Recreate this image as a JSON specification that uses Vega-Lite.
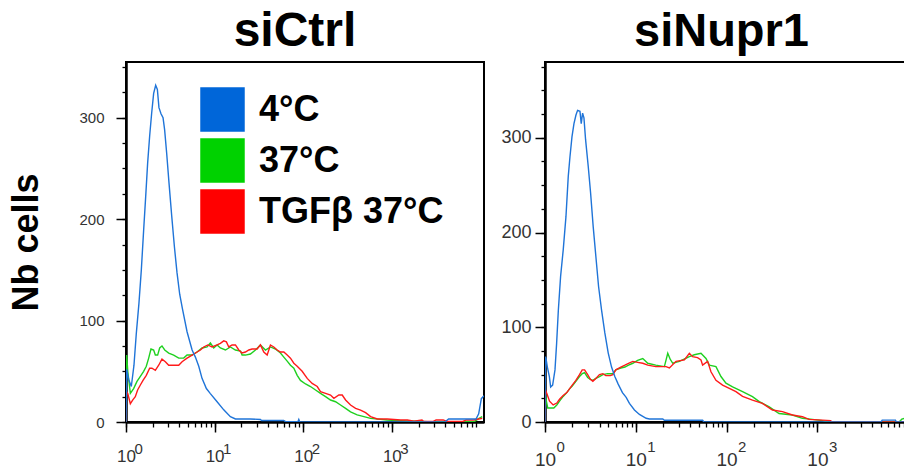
{
"$schema": "https://vega.github.io/schema/vega-lite/v6.json",
"background": "white",
"padding": {"left": 7, "top": 7, "right": 0, "bottom": 0},
"config": {"font": "Liberation Sans", "view": {"stroke": "black", "strokeWidth": 2}, "axis": {"grid": false, "labelFont": "Liberation Sans", "titleFont": "Liberation Sans"}, "legend": {"labelFont": "Liberation Sans"}, "concat": {"spacing": 13}},
"datasets": {"hist": [
{"panel":"siCtrl","series":"37°C","logFL":0,"cells":0},{"panel":"siCtrl","series":"37°C","logFL":0.008,"cells":66},{"panel":"siCtrl","series":"37°C","logFL":0.02,"cells":50},{"panel":"siCtrl","series":"37°C","logFL":0.049,"cells":28.3},{"panel":"siCtrl","series":"37°C","logFL":0.086,"cells":33},{"panel":"siCtrl","series":"37°C","logFL":0.124,"cells":40},{"panel":"siCtrl","series":"37°C","logFL":0.162,"cells":45},{"panel":"siCtrl","series":"37°C","logFL":0.199,"cells":50},{"panel":"siCtrl","series":"37°C","logFL":0.229,"cells":55},{"panel":"siCtrl","series":"37°C","logFL":0.256,"cells":63},{"panel":"siCtrl","series":"37°C","logFL":0.282,"cells":72},{"panel":"siCtrl","series":"37°C","logFL":0.312,"cells":71},{"panel":"siCtrl","series":"37°C","logFL":0.331,"cells":66},{"panel":"siCtrl","series":"37°C","logFL":0.357,"cells":66},{"panel":"siCtrl","series":"37°C","logFL":0.38,"cells":73},{"panel":"siCtrl","series":"37°C","logFL":0.406,"cells":75},{"panel":"siCtrl","series":"37°C","logFL":0.437,"cells":71},{"panel":"siCtrl","series":"37°C","logFL":0.482,"cells":68},{"panel":"siCtrl","series":"37°C","logFL":0.538,"cells":66},{"panel":"siCtrl","series":"37°C","logFL":0.595,"cells":63},{"panel":"siCtrl","series":"37°C","logFL":0.651,"cells":63},{"panel":"siCtrl","series":"37°C","logFL":0.689,"cells":66},{"panel":"siCtrl","series":"37°C","logFL":0.746,"cells":66},{"panel":"siCtrl","series":"37°C","logFL":0.802,"cells":69},{"panel":"siCtrl","series":"37°C","logFL":0.858,"cells":73},{"panel":"siCtrl","series":"37°C","logFL":0.915,"cells":74},{"panel":"siCtrl","series":"37°C","logFL":0.952,"cells":78},{"panel":"siCtrl","series":"37°C","logFL":0.99,"cells":73},{"panel":"siCtrl","series":"37°C","logFL":1.028,"cells":76},{"panel":"siCtrl","series":"37°C","logFL":1.065,"cells":73},{"panel":"siCtrl","series":"37°C","logFL":1.122,"cells":71},{"panel":"siCtrl","series":"37°C","logFL":1.178,"cells":74},{"panel":"siCtrl","series":"37°C","logFL":1.235,"cells":71},{"panel":"siCtrl","series":"37°C","logFL":1.292,"cells":70},{"panel":"siCtrl","series":"37°C","logFL":1.31,"cells":66},{"panel":"siCtrl","series":"37°C","logFL":1.348,"cells":66},{"panel":"siCtrl","series":"37°C","logFL":1.404,"cells":67},{"panel":"siCtrl","series":"37°C","logFL":1.461,"cells":71},{"panel":"siCtrl","series":"37°C","logFL":1.517,"cells":76},{"panel":"siCtrl","series":"37°C","logFL":1.574,"cells":71},{"panel":"siCtrl","series":"37°C","logFL":1.63,"cells":74},{"panel":"siCtrl","series":"37°C","logFL":1.687,"cells":72},{"panel":"siCtrl","series":"37°C","logFL":1.743,"cells":68},{"panel":"siCtrl","series":"37°C","logFL":1.781,"cells":64},{"panel":"siCtrl","series":"37°C","logFL":1.819,"cells":60},{"panel":"siCtrl","series":"37°C","logFL":1.856,"cells":56},{"panel":"siCtrl","series":"37°C","logFL":1.894,"cells":53},{"panel":"siCtrl","series":"37°C","logFL":1.932,"cells":46},{"panel":"siCtrl","series":"37°C","logFL":1.969,"cells":41},{"panel":"siCtrl","series":"37°C","logFL":2.026,"cells":37.5},{"panel":"siCtrl","series":"37°C","logFL":2.082,"cells":35},{"panel":"siCtrl","series":"37°C","logFL":2.139,"cells":31.6},{"panel":"siCtrl","series":"37°C","logFL":2.195,"cells":28.3},{"panel":"siCtrl","series":"37°C","logFL":2.252,"cells":25},{"panel":"siCtrl","series":"37°C","logFL":2.308,"cells":21.7},{"panel":"siCtrl","series":"37°C","logFL":2.365,"cells":20},{"panel":"siCtrl","series":"37°C","logFL":2.421,"cells":16.8},{"panel":"siCtrl","series":"37°C","logFL":2.478,"cells":13.5},{"panel":"siCtrl","series":"37°C","logFL":2.534,"cells":10},{"panel":"siCtrl","series":"37°C","logFL":2.609,"cells":7},{"panel":"siCtrl","series":"37°C","logFL":2.685,"cells":5.3},{"panel":"siCtrl","series":"37°C","logFL":2.76,"cells":3.6},{"panel":"siCtrl","series":"37°C","logFL":2.873,"cells":2.6},{"panel":"siCtrl","series":"37°C","logFL":2.948,"cells":2},{"panel":"siCtrl","series":"37°C","logFL":3.1,"cells":1.3},{"panel":"siCtrl","series":"37°C","logFL":3.288,"cells":0.7},{"panel":"siCtrl","series":"37°C","logFL":3.4,"cells":0.3},{"panel":"siCtrl","series":"37°C","logFL":3.93,"cells":0.3},{"panel":"siCtrl","series":"37°C","logFL":3.984,"cells":3.6},{"panel":"siCtrl","series":"37°C","logFL":4.02,"cells":5.3},
{"panel":"siCtrl","series":"TGFβ 37°C","logFL":0,"cells":0},{"panel":"siCtrl","series":"TGFβ 37°C","logFL":0.005,"cells":30},{"panel":"siCtrl","series":"TGFβ 37°C","logFL":0.02,"cells":28},{"panel":"siCtrl","series":"TGFβ 37°C","logFL":0.049,"cells":18},{"panel":"siCtrl","series":"TGFβ 37°C","logFL":0.079,"cells":22},{"panel":"siCtrl","series":"TGFβ 37°C","logFL":0.105,"cells":25},{"panel":"siCtrl","series":"TGFβ 37°C","logFL":0.131,"cells":31.6},{"panel":"siCtrl","series":"TGFβ 37°C","logFL":0.162,"cells":36.5},{"panel":"siCtrl","series":"TGFβ 37°C","logFL":0.192,"cells":41},{"panel":"siCtrl","series":"TGFβ 37°C","logFL":0.229,"cells":46},{"panel":"siCtrl","series":"TGFβ 37°C","logFL":0.267,"cells":53},{"panel":"siCtrl","series":"TGFβ 37°C","logFL":0.293,"cells":53},{"panel":"siCtrl","series":"TGFβ 37°C","logFL":0.331,"cells":51},{"panel":"siCtrl","series":"TGFβ 37°C","logFL":0.369,"cells":56},{"panel":"siCtrl","series":"TGFβ 37°C","logFL":0.406,"cells":62},{"panel":"siCtrl","series":"TGFβ 37°C","logFL":0.444,"cells":59.5},{"panel":"siCtrl","series":"TGFβ 37°C","logFL":0.482,"cells":56},{"panel":"siCtrl","series":"TGFβ 37°C","logFL":0.538,"cells":56},{"panel":"siCtrl","series":"TGFβ 37°C","logFL":0.595,"cells":56},{"panel":"siCtrl","series":"TGFβ 37°C","logFL":0.633,"cells":59.5},{"panel":"siCtrl","series":"TGFβ 37°C","logFL":0.689,"cells":63},{"panel":"siCtrl","series":"TGFβ 37°C","logFL":0.746,"cells":66},{"panel":"siCtrl","series":"TGFβ 37°C","logFL":0.802,"cells":69},{"panel":"siCtrl","series":"TGFβ 37°C","logFL":0.84,"cells":71},{"panel":"siCtrl","series":"TGFβ 37°C","logFL":0.877,"cells":74},{"panel":"siCtrl","series":"TGFβ 37°C","logFL":0.923,"cells":76},{"panel":"siCtrl","series":"TGFβ 37°C","logFL":0.971,"cells":74},{"panel":"siCtrl","series":"TGFβ 37°C","logFL":1.028,"cells":76},{"panel":"siCtrl","series":"TGFβ 37°C","logFL":1.065,"cells":77.6},{"panel":"siCtrl","series":"TGFβ 37°C","logFL":1.103,"cells":80},{"panel":"siCtrl","series":"TGFβ 37°C","logFL":1.133,"cells":79},{"panel":"siCtrl","series":"TGFβ 37°C","logFL":1.16,"cells":74},{"panel":"siCtrl","series":"TGFβ 37°C","logFL":1.197,"cells":76},{"panel":"siCtrl","series":"TGFβ 37°C","logFL":1.235,"cells":76},{"panel":"siCtrl","series":"TGFβ 37°C","logFL":1.273,"cells":71},{"panel":"siCtrl","series":"TGFβ 37°C","logFL":1.31,"cells":68},{"panel":"siCtrl","series":"TGFβ 37°C","logFL":1.348,"cells":69},{"panel":"siCtrl","series":"TGFβ 37°C","logFL":1.386,"cells":71},{"panel":"siCtrl","series":"TGFβ 37°C","logFL":1.423,"cells":72},{"panel":"siCtrl","series":"TGFβ 37°C","logFL":1.48,"cells":72},{"panel":"siCtrl","series":"TGFβ 37°C","logFL":1.517,"cells":76},{"panel":"siCtrl","series":"TGFβ 37°C","logFL":1.555,"cells":69},{"panel":"siCtrl","series":"TGFβ 37°C","logFL":1.593,"cells":66},{"panel":"siCtrl","series":"TGFβ 37°C","logFL":1.63,"cells":76},{"panel":"siCtrl","series":"TGFβ 37°C","logFL":1.668,"cells":74},{"panel":"siCtrl","series":"TGFβ 37°C","logFL":1.706,"cells":71},{"panel":"siCtrl","series":"TGFβ 37°C","logFL":1.743,"cells":69},{"panel":"siCtrl","series":"TGFβ 37°C","logFL":1.781,"cells":69},{"panel":"siCtrl","series":"TGFβ 37°C","logFL":1.819,"cells":66},{"panel":"siCtrl","series":"TGFβ 37°C","logFL":1.856,"cells":63},{"panel":"siCtrl","series":"TGFβ 37°C","logFL":1.894,"cells":58},{"panel":"siCtrl","series":"TGFβ 37°C","logFL":1.932,"cells":55},{"panel":"siCtrl","series":"TGFβ 37°C","logFL":1.988,"cells":50},{"panel":"siCtrl","series":"TGFβ 37°C","logFL":2.045,"cells":43},{"panel":"siCtrl","series":"TGFβ 37°C","logFL":2.101,"cells":38},{"panel":"siCtrl","series":"TGFβ 37°C","logFL":2.158,"cells":35},{"panel":"siCtrl","series":"TGFβ 37°C","logFL":2.195,"cells":30},{"panel":"siCtrl","series":"TGFβ 37°C","logFL":2.252,"cells":28.3},{"panel":"siCtrl","series":"TGFβ 37°C","logFL":2.308,"cells":26.6},{"panel":"siCtrl","series":"TGFβ 37°C","logFL":2.346,"cells":23.4},{"panel":"siCtrl","series":"TGFβ 37°C","logFL":2.402,"cells":26.6},{"panel":"siCtrl","series":"TGFβ 37°C","logFL":2.44,"cells":26.6},{"panel":"siCtrl","series":"TGFβ 37°C","logFL":2.478,"cells":21.7},{"panel":"siCtrl","series":"TGFβ 37°C","logFL":2.534,"cells":16.8},{"panel":"siCtrl","series":"TGFβ 37°C","logFL":2.591,"cells":13.5},{"panel":"siCtrl","series":"TGFβ 37°C","logFL":2.647,"cells":11.8},{"panel":"siCtrl","series":"TGFβ 37°C","logFL":2.704,"cells":9.2},{"panel":"siCtrl","series":"TGFβ 37°C","logFL":2.76,"cells":5.3},{"panel":"siCtrl","series":"TGFβ 37°C","logFL":2.836,"cells":3},{"panel":"siCtrl","series":"TGFβ 37°C","logFL":2.948,"cells":3},{"panel":"siCtrl","series":"TGFβ 37°C","logFL":3.1,"cells":2},{"panel":"siCtrl","series":"TGFβ 37°C","logFL":3.175,"cells":2},{"panel":"siCtrl","series":"TGFβ 37°C","logFL":3.25,"cells":0.7},{"panel":"siCtrl","series":"TGFβ 37°C","logFL":3.34,"cells":2},{"panel":"siCtrl","series":"TGFβ 37°C","logFL":3.36,"cells":0.5},{"panel":"siCtrl","series":"TGFβ 37°C","logFL":3.467,"cells":0.5},{"panel":"siCtrl","series":"TGFβ 37°C","logFL":3.5,"cells":2},{"panel":"siCtrl","series":"TGFβ 37°C","logFL":3.58,"cells":2},{"panel":"siCtrl","series":"TGFβ 37°C","logFL":3.62,"cells":0.5},{"panel":"siCtrl","series":"TGFβ 37°C","logFL":3.8,"cells":0.5},{"panel":"siCtrl","series":"TGFβ 37°C","logFL":3.84,"cells":2},{"panel":"siCtrl","series":"TGFβ 37°C","logFL":3.92,"cells":2},{"panel":"siCtrl","series":"TGFβ 37°C","logFL":3.98,"cells":3},{"panel":"siCtrl","series":"TGFβ 37°C","logFL":4.02,"cells":3.6},
{"panel":"siCtrl","series":"4°C","logFL":0,"cells":0},{"panel":"siCtrl","series":"4°C","logFL":0.008,"cells":52},{"panel":"siCtrl","series":"4°C","logFL":0.03,"cells":42},{"panel":"siCtrl","series":"4°C","logFL":0.06,"cells":35},{"panel":"siCtrl","series":"4°C","logFL":0.09,"cells":56},{"panel":"siCtrl","series":"4°C","logFL":0.116,"cells":87},{"panel":"siCtrl","series":"4°C","logFL":0.146,"cells":117},{"panel":"siCtrl","series":"4°C","logFL":0.173,"cells":150},{"panel":"siCtrl","series":"4°C","logFL":0.199,"cells":189},{"panel":"siCtrl","series":"4°C","logFL":0.222,"cells":222},{"panel":"siCtrl","series":"4°C","logFL":0.244,"cells":255},{"panel":"siCtrl","series":"4°C","logFL":0.267,"cells":282},{"panel":"siCtrl","series":"4°C","logFL":0.29,"cells":305},{"panel":"siCtrl","series":"4°C","logFL":0.312,"cells":324},{"panel":"siCtrl","series":"4°C","logFL":0.335,"cells":332},{"panel":"siCtrl","series":"4°C","logFL":0.354,"cells":328},{"panel":"siCtrl","series":"4°C","logFL":0.372,"cells":310},{"panel":"siCtrl","series":"4°C","logFL":0.395,"cells":304},{"panel":"siCtrl","series":"4°C","logFL":0.418,"cells":300},{"panel":"siCtrl","series":"4°C","logFL":0.436,"cells":288},{"panel":"siCtrl","series":"4°C","logFL":0.459,"cells":265},{"panel":"siCtrl","series":"4°C","logFL":0.485,"cells":236},{"panel":"siCtrl","series":"4°C","logFL":0.516,"cells":203},{"panel":"siCtrl","series":"4°C","logFL":0.546,"cells":173},{"panel":"siCtrl","series":"4°C","logFL":0.576,"cells":147},{"panel":"siCtrl","series":"4°C","logFL":0.606,"cells":126},{"panel":"siCtrl","series":"4°C","logFL":0.636,"cells":112},{"panel":"siCtrl","series":"4°C","logFL":0.689,"cells":89},{"panel":"siCtrl","series":"4°C","logFL":0.746,"cells":71},{"panel":"siCtrl","series":"4°C","logFL":0.783,"cells":64},{"panel":"siCtrl","series":"4°C","logFL":0.821,"cells":55},{"panel":"siCtrl","series":"4°C","logFL":0.858,"cells":43},{"panel":"siCtrl","series":"4°C","logFL":0.907,"cells":33},{"panel":"siCtrl","series":"4°C","logFL":0.952,"cells":28},{"panel":"siCtrl","series":"4°C","logFL":1.028,"cells":20},{"panel":"siCtrl","series":"4°C","logFL":1.103,"cells":12},{"panel":"siCtrl","series":"4°C","logFL":1.178,"cells":5.3},{"panel":"siCtrl","series":"4°C","logFL":1.235,"cells":3},{"panel":"siCtrl","series":"4°C","logFL":1.4,"cells":3},{"panel":"siCtrl","series":"4°C","logFL":1.517,"cells":2.5},{"panel":"siCtrl","series":"4°C","logFL":1.53,"cells":1.5},{"panel":"siCtrl","series":"4°C","logFL":1.78,"cells":1.5},{"panel":"siCtrl","series":"4°C","logFL":1.8,"cells":0.3},{"panel":"siCtrl","series":"4°C","logFL":1.94,"cells":0.3},{"panel":"siCtrl","series":"4°C","logFL":1.95,"cells":2.5},{"panel":"siCtrl","series":"4°C","logFL":1.96,"cells":0.3},{"panel":"siCtrl","series":"4°C","logFL":2.2,"cells":0},{"panel":"siCtrl","series":"4°C","logFL":3.6,"cells":0},{"panel":"siCtrl","series":"4°C","logFL":3.64,"cells":3},{"panel":"siCtrl","series":"4°C","logFL":3.95,"cells":3},{"panel":"siCtrl","series":"4°C","logFL":3.98,"cells":8},{"panel":"siCtrl","series":"4°C","logFL":4.01,"cells":23},{"panel":"siCtrl","series":"4°C","logFL":4.04,"cells":26},
{"panel":"siNupr1","series":"37°C","logFL":0,"cells":0},{"panel":"siNupr1","series":"37°C","logFL":0.004,"cells":30},{"panel":"siNupr1","series":"37°C","logFL":0.015,"cells":22},{"panel":"siNupr1","series":"37°C","logFL":0.03,"cells":14.8},{"panel":"siNupr1","series":"37°C","logFL":0.097,"cells":14.8},{"panel":"siNupr1","series":"37°C","logFL":0.13,"cells":18},{"panel":"siNupr1","series":"37°C","logFL":0.16,"cells":22},{"panel":"siNupr1","series":"37°C","logFL":0.2,"cells":27},{"panel":"siNupr1","series":"37°C","logFL":0.24,"cells":31},{"panel":"siNupr1","series":"37°C","logFL":0.27,"cells":35},{"panel":"siNupr1","series":"37°C","logFL":0.3,"cells":38},{"panel":"siNupr1","series":"37°C","logFL":0.34,"cells":43},{"panel":"siNupr1","series":"37°C","logFL":0.38,"cells":48},{"panel":"siNupr1","series":"37°C","logFL":0.41,"cells":51},{"panel":"siNupr1","series":"37°C","logFL":0.436,"cells":52},{"panel":"siNupr1","series":"37°C","logFL":0.47,"cells":47},{"panel":"siNupr1","series":"37°C","logFL":0.5,"cells":45},{"panel":"siNupr1","series":"37°C","logFL":0.527,"cells":44},{"panel":"siNupr1","series":"37°C","logFL":0.56,"cells":46},{"panel":"siNupr1","series":"37°C","logFL":0.6,"cells":48},{"panel":"siNupr1","series":"37°C","logFL":0.637,"cells":50},{"panel":"siNupr1","series":"37°C","logFL":0.69,"cells":51},{"panel":"siNupr1","series":"37°C","logFL":0.747,"cells":51},{"panel":"siNupr1","series":"37°C","logFL":0.78,"cells":55},{"panel":"siNupr1","series":"37°C","logFL":0.835,"cells":57},{"panel":"siNupr1","series":"37°C","logFL":0.88,"cells":58},{"panel":"siNupr1","series":"37°C","logFL":0.92,"cells":60},{"panel":"siNupr1","series":"37°C","logFL":0.967,"cells":62},{"panel":"siNupr1","series":"37°C","logFL":1.02,"cells":65},{"panel":"siNupr1","series":"37°C","logFL":1.077,"cells":67},{"panel":"siNupr1","series":"37°C","logFL":1.132,"cells":62},{"panel":"siNupr1","series":"37°C","logFL":1.22,"cells":60},{"panel":"siNupr1","series":"37°C","logFL":1.315,"cells":58.5},{"panel":"siNupr1","series":"37°C","logFL":1.352,"cells":72.5},{"panel":"siNupr1","series":"37°C","logFL":1.38,"cells":66},{"panel":"siNupr1","series":"37°C","logFL":1.407,"cells":62},{"panel":"siNupr1","series":"37°C","logFL":1.48,"cells":64},{"panel":"siNupr1","series":"37°C","logFL":1.59,"cells":69},{"panel":"siNupr1","series":"37°C","logFL":1.644,"cells":71},{"panel":"siNupr1","series":"37°C","logFL":1.718,"cells":72.5},{"panel":"siNupr1","series":"37°C","logFL":1.773,"cells":67},{"panel":"siNupr1","series":"37°C","logFL":1.81,"cells":60},{"panel":"siNupr1","series":"37°C","logFL":1.883,"cells":58.5},{"panel":"siNupr1","series":"37°C","logFL":1.938,"cells":48},{"panel":"siNupr1","series":"37°C","logFL":1.993,"cells":41},{"panel":"siNupr1","series":"37°C","logFL":2.066,"cells":37},{"panel":"siNupr1","series":"37°C","logFL":2.176,"cells":32},{"panel":"siNupr1","series":"37°C","logFL":2.285,"cells":26.8},{"panel":"siNupr1","series":"37°C","logFL":2.36,"cells":21.5},{"panel":"siNupr1","series":"37°C","logFL":2.47,"cells":16},{"panel":"siNupr1","series":"37°C","logFL":2.578,"cells":9},{"panel":"siNupr1","series":"37°C","logFL":2.725,"cells":7.4},{"panel":"siNupr1","series":"37°C","logFL":2.835,"cells":3.9},{"panel":"siNupr1","series":"37°C","logFL":2.945,"cells":2.8},{"panel":"siNupr1","series":"37°C","logFL":3.055,"cells":1.4},{"panel":"siNupr1","series":"37°C","logFL":3.12,"cells":0},{"panel":"siNupr1","series":"37°C","logFL":3.9,"cells":0},{"panel":"siNupr1","series":"37°C","logFL":3.93,"cells":3},{"panel":"siNupr1","series":"37°C","logFL":4.0,"cells":5},
{"panel":"siNupr1","series":"TGFβ 37°C","logFL":0,"cells":0},{"panel":"siNupr1","series":"TGFβ 37°C","logFL":0.004,"cells":34},{"panel":"siNupr1","series":"TGFβ 37°C","logFL":0.02,"cells":30},{"panel":"siNupr1","series":"TGFβ 37°C","logFL":0.05,"cells":22},{"panel":"siNupr1","series":"TGFβ 37°C","logFL":0.09,"cells":18},{"panel":"siNupr1","series":"TGFβ 37°C","logFL":0.13,"cells":20},{"panel":"siNupr1","series":"TGFβ 37°C","logFL":0.16,"cells":24},{"panel":"siNupr1","series":"TGFβ 37°C","logFL":0.2,"cells":28},{"panel":"siNupr1","series":"TGFβ 37°C","logFL":0.24,"cells":31},{"panel":"siNupr1","series":"TGFβ 37°C","logFL":0.27,"cells":35},{"panel":"siNupr1","series":"TGFβ 37°C","logFL":0.3,"cells":39},{"panel":"siNupr1","series":"TGFβ 37°C","logFL":0.34,"cells":44},{"panel":"siNupr1","series":"TGFβ 37°C","logFL":0.38,"cells":50},{"panel":"siNupr1","series":"TGFβ 37°C","logFL":0.41,"cells":55},{"panel":"siNupr1","series":"TGFβ 37°C","logFL":0.436,"cells":55},{"panel":"siNupr1","series":"TGFβ 37°C","logFL":0.47,"cells":50},{"panel":"siNupr1","series":"TGFβ 37°C","logFL":0.5,"cells":45},{"panel":"siNupr1","series":"TGFβ 37°C","logFL":0.527,"cells":43},{"panel":"siNupr1","series":"TGFβ 37°C","logFL":0.56,"cells":46},{"panel":"siNupr1","series":"TGFβ 37°C","logFL":0.6,"cells":50},{"panel":"siNupr1","series":"TGFβ 37°C","logFL":0.637,"cells":51},{"panel":"siNupr1","series":"TGFβ 37°C","logFL":0.67,"cells":49},{"panel":"siNupr1","series":"TGFβ 37°C","logFL":0.72,"cells":49},{"panel":"siNupr1","series":"TGFβ 37°C","logFL":0.747,"cells":50},{"panel":"siNupr1","series":"TGFβ 37°C","logFL":0.78,"cells":55},{"panel":"siNupr1","series":"TGFβ 37°C","logFL":0.835,"cells":58},{"panel":"siNupr1","series":"TGFβ 37°C","logFL":0.88,"cells":60},{"panel":"siNupr1","series":"TGFβ 37°C","logFL":0.92,"cells":62},{"panel":"siNupr1","series":"TGFβ 37°C","logFL":0.967,"cells":64},{"panel":"siNupr1","series":"TGFβ 37°C","logFL":1.02,"cells":63},{"panel":"siNupr1","series":"TGFβ 37°C","logFL":1.077,"cells":62},{"panel":"siNupr1","series":"TGFβ 37°C","logFL":1.132,"cells":60},{"panel":"siNupr1","series":"TGFβ 37°C","logFL":1.22,"cells":58.5},{"panel":"siNupr1","series":"TGFβ 37°C","logFL":1.333,"cells":58.5},{"panel":"siNupr1","series":"TGFβ 37°C","logFL":1.37,"cells":57},{"panel":"siNupr1","series":"TGFβ 37°C","logFL":1.443,"cells":64},{"panel":"siNupr1","series":"TGFβ 37°C","logFL":1.535,"cells":65.5},{"panel":"siNupr1","series":"TGFβ 37°C","logFL":1.59,"cells":72.5},{"panel":"siNupr1","series":"TGFβ 37°C","logFL":1.626,"cells":69},{"panel":"siNupr1","series":"TGFβ 37°C","logFL":1.68,"cells":68},{"panel":"siNupr1","series":"TGFβ 37°C","logFL":1.718,"cells":65.5},{"panel":"siNupr1","series":"TGFβ 37°C","logFL":1.736,"cells":60},{"panel":"siNupr1","series":"TGFβ 37°C","logFL":1.791,"cells":64},{"panel":"siNupr1","series":"TGFβ 37°C","logFL":1.828,"cells":53},{"panel":"siNupr1","series":"TGFβ 37°C","logFL":1.883,"cells":44},{"panel":"siNupr1","series":"TGFβ 37°C","logFL":1.956,"cells":39},{"panel":"siNupr1","series":"TGFβ 37°C","logFL":2.03,"cells":35.6},{"panel":"siNupr1","series":"TGFβ 37°C","logFL":2.103,"cells":32},{"panel":"siNupr1","series":"TGFβ 37°C","logFL":2.176,"cells":27},{"panel":"siNupr1","series":"TGFβ 37°C","logFL":2.285,"cells":23},{"panel":"siNupr1","series":"TGFβ 37°C","logFL":2.395,"cells":19.7},{"panel":"siNupr1","series":"TGFβ 37°C","logFL":2.505,"cells":12.7},{"panel":"siNupr1","series":"TGFβ 37°C","logFL":2.615,"cells":11},{"panel":"siNupr1","series":"TGFβ 37°C","logFL":2.725,"cells":7.4},{"panel":"siNupr1","series":"TGFβ 37°C","logFL":2.835,"cells":5.6},{"panel":"siNupr1","series":"TGFβ 37°C","logFL":2.908,"cells":2.8},{"panel":"siNupr1","series":"TGFβ 37°C","logFL":3.055,"cells":2},{"panel":"siNupr1","series":"TGFβ 37°C","logFL":3.146,"cells":1.4},{"panel":"siNupr1","series":"TGFβ 37°C","logFL":3.16,"cells":0},{"panel":"siNupr1","series":"TGFβ 37°C","logFL":4.0,"cells":0},
{"panel":"siNupr1","series":"4°C","logFL":0,"cells":0},{"panel":"siNupr1","series":"4°C","logFL":0.004,"cells":69},{"panel":"siNupr1","series":"4°C","logFL":0.011,"cells":67},{"panel":"siNupr1","series":"4°C","logFL":0.026,"cells":58},{"panel":"siNupr1","series":"4°C","logFL":0.048,"cells":48},{"panel":"siNupr1","series":"4°C","logFL":0.062,"cells":37},{"panel":"siNupr1","series":"4°C","logFL":0.084,"cells":39},{"panel":"siNupr1","series":"4°C","logFL":0.11,"cells":55},{"panel":"siNupr1","series":"4°C","logFL":0.128,"cells":83},{"panel":"siNupr1","series":"4°C","logFL":0.147,"cells":118},{"panel":"siNupr1","series":"4°C","logFL":0.172,"cells":154},{"panel":"siNupr1","series":"4°C","logFL":0.201,"cells":182},{"panel":"siNupr1","series":"4°C","logFL":0.231,"cells":217},{"panel":"siNupr1","series":"4°C","logFL":0.256,"cells":259},{"panel":"siNupr1","series":"4°C","logFL":0.275,"cells":280},{"panel":"siNupr1","series":"4°C","logFL":0.297,"cells":301},{"panel":"siNupr1","series":"4°C","logFL":0.319,"cells":315},{"panel":"siNupr1","series":"4°C","logFL":0.341,"cells":324},{"panel":"siNupr1","series":"4°C","logFL":0.359,"cells":329},{"panel":"siNupr1","series":"4°C","logFL":0.385,"cells":328},{"panel":"siNupr1","series":"4°C","logFL":0.399,"cells":315},{"panel":"siNupr1","series":"4°C","logFL":0.414,"cells":326},{"panel":"siNupr1","series":"4°C","logFL":0.429,"cells":321},{"panel":"siNupr1","series":"4°C","logFL":0.447,"cells":298},{"panel":"siNupr1","series":"4°C","logFL":0.476,"cells":270},{"panel":"siNupr1","series":"4°C","logFL":0.502,"cells":242},{"panel":"siNupr1","series":"4°C","logFL":0.531,"cells":206},{"panel":"siNupr1","series":"4°C","logFL":0.56,"cells":175},{"panel":"siNupr1","series":"4°C","logFL":0.59,"cells":143},{"panel":"siNupr1","series":"4°C","logFL":0.623,"cells":118},{"panel":"siNupr1","series":"4°C","logFL":0.659,"cells":94},{"panel":"siNupr1","series":"4°C","logFL":0.696,"cells":73},{"panel":"siNupr1","series":"4°C","logFL":0.733,"cells":58},{"panel":"siNupr1","series":"4°C","logFL":0.769,"cells":48},{"panel":"siNupr1","series":"4°C","logFL":0.806,"cells":40},{"panel":"siNupr1","series":"4°C","logFL":0.853,"cells":31},{"panel":"siNupr1","series":"4°C","logFL":0.894,"cells":26},{"panel":"siNupr1","series":"4°C","logFL":0.93,"cells":19.7},{"panel":"siNupr1","series":"4°C","logFL":0.985,"cells":12.7},{"panel":"siNupr1","series":"4°C","logFL":1.04,"cells":8},{"panel":"siNupr1","series":"4°C","logFL":1.114,"cells":3.9},{"panel":"siNupr1","series":"4°C","logFL":1.15,"cells":3.2},{"panel":"siNupr1","series":"4°C","logFL":1.297,"cells":3.2},{"panel":"siNupr1","series":"4°C","logFL":1.315,"cells":1.8},{"panel":"siNupr1","series":"4°C","logFL":1.736,"cells":1.8},{"panel":"siNupr1","series":"4°C","logFL":1.75,"cells":0},{"panel":"siNupr1","series":"4°C","logFL":3.7,"cells":0},{"panel":"siNupr1","series":"4°C","logFL":3.714,"cells":2},{"panel":"siNupr1","series":"4°C","logFL":3.86,"cells":2},{"panel":"siNupr1","series":"4°C","logFL":3.87,"cells":0},{"panel":"siNupr1","series":"4°C","logFL":4.0,"cells":0}
]},
"data": {"name": "hist"},
"resolve": {"scale": {"color": "independent"}, "legend": {"color": "independent"}},
"hconcat": [
{
"width": 358, "height": 360,
"title": {"text": "siCtrl", "fontSize": 48, "fontWeight": "bold", "font": "Liberation Sans", "color": "black", "anchor": "middle", "dx": -10, "offset": 6},
"transform": [{"filter": "datum.panel == 'siCtrl'"}],
"layer": [
{"mark": {"type": "line", "strokeWidth": 1.4, "clip": true},
 "encoding": {
  "x": {"field": "logFL", "type": "quantitative", "scale": {"domain": [0, 4.04], "nice": false, "zero": false},
        "axis": {"orient": "bottom", "values": [0,1,2,3], "labelExpr": "'10'", "tickSize": 10, "tickWidth": 1.5, "tickColor": "black", "domainColor": "black", "domainWidth": 2.5, "labelFontSize": 17, "labelColor": "#333333", "labelPadding": 16, "labelFlush": false, "labelOverlap": false, "labelBound": false, "title": null}},
  "y": {"field": "cells", "type": "quantitative", "scale": {"domain": [0, 355], "nice": false},
        "axis": {"orient": "left", "values": [0,100,200,300], "tickSize": 10, "tickWidth": 1.5, "tickColor": "black", "domainColor": "black", "domainWidth": 2.5, "labelFontSize": 15, "labelColor": "#333333", "labelPadding": 12, "labelFlush": false, "labelOverlap": false, "title": "Nb cells", "titleFontSize": 36, "titleFontWeight": "bold", "titleColor": "black", "titlePadding": 33}},
  "color": {"field": "series", "type": "nominal", "scale": {"domain": ["4°C", "37°C", "TGFβ 37°C"], "range": ["#1f74d8", "#1fd01f", "#ff1a1a"]},
            "legend": {"title": null, "orient": "none", "legendX": 74, "legendY": 25, "symbolType": "square", "symbolSize": 1980, "symbolStrokeWidth": 0, "symbolOpacity": 1, "labelFontSize": 36, "labelFontWeight": "bold", "labelColor": "black", "labelOffset": 14, "rowPadding": 6, "padding": 0, "labelLimit": 400,
                       "encode": {"symbols": {"update": {"fill": {"signal": "datum.value === '4°C' ? '#0066D9' : datum.value === '37°C' ? '#00D200' : '#FF0000'"}, "fillOpacity": {"value": 1}, "strokeWidth": {"value": 0}}}}}}
 }},
{"transform": [{"filter": "false"}],
 "mark": {"type": "line"},
 "encoding": {
  "x": {"field": "logFL", "type": "quantitative",
        "axis": {"orient": "bottom", "values": [0,0.301,0.477,0.602,0.699,0.778,0.845,0.903,0.954,1,1.301,1.477,1.602,1.699,1.778,1.845,1.903,1.954,2,2.301,2.477,2.602,2.699,2.778,2.845,2.903,2.954,3,3.301,3.477,3.602,3.699,3.778,3.845,3.903,3.954], "labelExpr": "datum.value == 0 ? '0' : datum.value == 1 ? '1' : datum.value == 2 ? '2' : datum.value == 3 ? '3' : ''", "tickSize": 5, "tickWidth": 1.3, "tickColor": "black", "domain": false, "labelFontSize": 15, "labelColor": "#333333", "labelAlign": "left", "labelOffset": 8, "labelPadding": 14, "labelFlush": false, "labelOverlap": false, "labelBound": false, "title": null}},
  "y": {"field": "cells", "type": "quantitative",
        "axis": {"orient": "left", "values": [0,25,50,75,100,125,150,175,200,225,250,275,300,325,350], "tickSize": 4, "tickWidth": 1.3, "tickColor": "black", "domain": false, "labels": false, "title": null}}
 }}
],
"resolve": {"axis": {"x": "independent", "y": "independent"}}
},
{
"width": 365, "height": 360,
"title": {"text": "siNupr1", "fontSize": 47, "fontWeight": "bold", "font": "Liberation Sans", "color": "black", "anchor": "middle", "dx": -6, "offset": 6},
"transform": [{"filter": "datum.panel == 'siNupr1'"}],
"layer": [
{"mark": {"type": "line", "strokeWidth": 1.4, "clip": true},
 "encoding": {
  "x": {"field": "logFL", "type": "quantitative", "scale": {"domain": [0, 4.02], "nice": false, "zero": false},
        "axis": {"orient": "bottom", "values": [0,1,2,3], "labelExpr": "'10'", "tickSize": 10, "tickWidth": 1.5, "tickColor": "black", "domainColor": "black", "domainWidth": 2.5, "labelFontSize": 19, "labelColor": "#333333", "labelPadding": 18, "labelFlush": false, "labelOverlap": false, "labelBound": false, "title": null}},
  "y": {"field": "cells", "type": "quantitative", "scale": {"domain": [0, 380], "nice": false},
        "axis": {"orient": "left", "values": [0,100,200,300], "tickSize": 10, "tickWidth": 1.5, "tickColor": "black", "domainColor": "black", "domainWidth": 2.5, "labelFontSize": 18, "labelColor": "#333333", "labelPadding": 4, "labelFlush": false, "labelOverlap": false, "title": null}},
  "color": {"field": "series", "type": "nominal", "scale": {"domain": ["4°C", "37°C", "TGFβ 37°C"], "range": ["#1f74d8", "#1fd01f", "#ff1a1a"]}, "legend": null}
 }},
{"transform": [{"filter": "false"}],
 "mark": {"type": "line"},
 "encoding": {
  "x": {"field": "logFL", "type": "quantitative",
        "axis": {"orient": "bottom", "values": [0,0.301,0.477,0.602,0.699,0.778,0.845,0.903,0.954,1,1.301,1.477,1.602,1.699,1.778,1.845,1.903,1.954,2,2.301,2.477,2.602,2.699,2.778,2.845,2.903,2.954,3,3.301,3.477,3.602,3.699,3.778,3.845,3.903,3.954], "labelExpr": "datum.value == 0 ? '0' : datum.value == 1 ? '1' : datum.value == 2 ? '2' : datum.value == 3 ? '3' : ''", "tickSize": 5, "tickWidth": 1.3, "tickColor": "black", "domain": false, "labelFontSize": 15, "labelColor": "#333333", "labelAlign": "left", "labelOffset": 11, "labelPadding": 12, "labelFlush": false, "labelOverlap": false, "labelBound": false, "title": null}},
  "y": {"field": "cells", "type": "quantitative",
        "axis": {"orient": "left", "values": [0,25,50,75,100,125,150,175,200,225,250,275,300,325,350,375], "tickSize": 4, "tickWidth": 1.3, "tickColor": "black", "domain": false, "labels": false, "title": null}}
 }}
],
"resolve": {"axis": {"x": "independent", "y": "independent"}}
}
]
}
